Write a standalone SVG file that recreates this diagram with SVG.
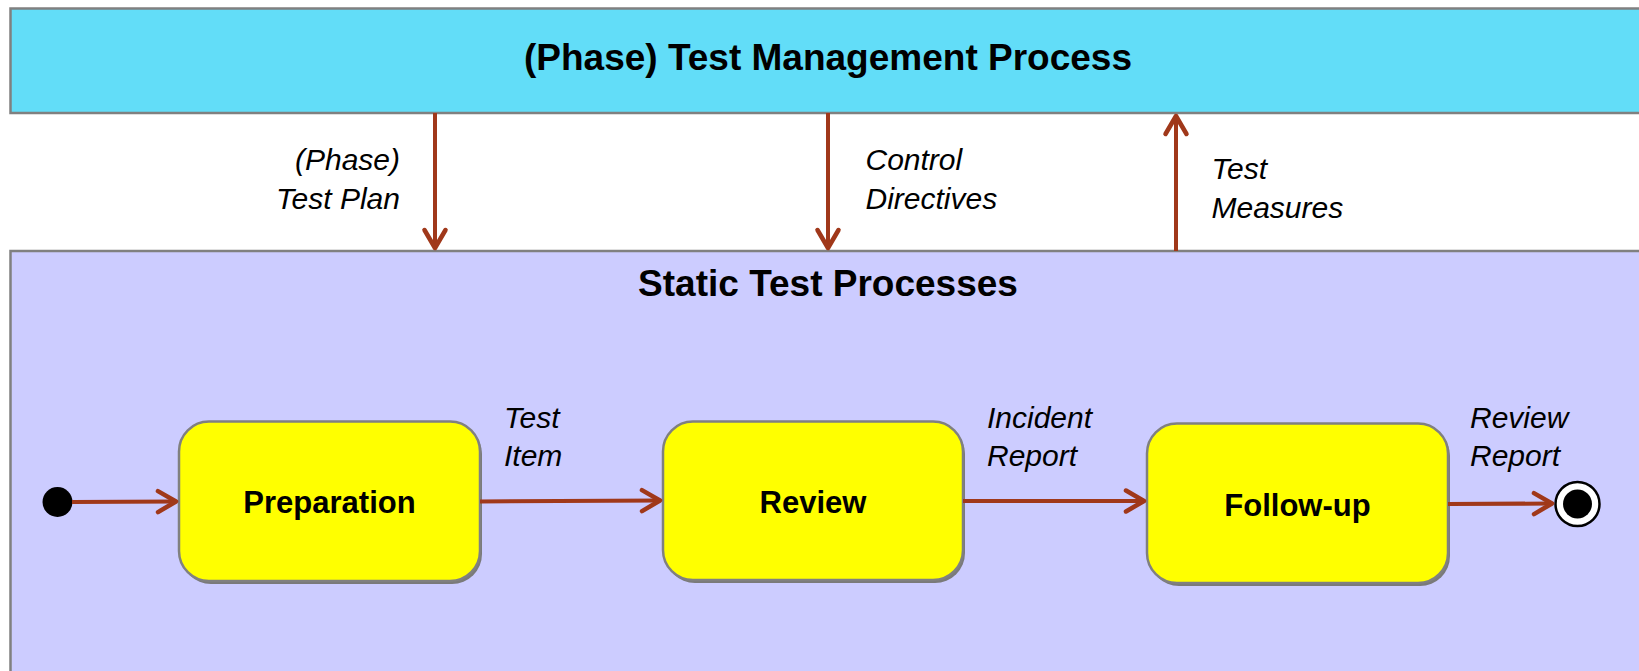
<svg xmlns="http://www.w3.org/2000/svg" width="1639" height="671" viewBox="0 0 1639 671">
  <style>
    .title { font-family: "Liberation Sans", Arial, sans-serif; font-weight: bold; font-size: 37px; fill: #000; text-anchor: middle; }
    .state { font-family: "Liberation Sans", Arial, sans-serif; font-weight: bold; font-size: 31px; fill: #000; text-anchor: middle; }
    .label { font-family: "Liberation Sans", Arial, sans-serif; font-style: italic; font-size: 30px; fill: #000; }
    .flow { stroke: #A0381A; stroke-width: 4; fill: none; marker-end: url(#head); }
    .node { fill: #FFFF00; stroke: #808080; stroke-width: 2.5; }
    .shadow { fill: #7A7A7A; }
  </style>
  <defs>
    <marker id="head" markerUnits="userSpaceOnUse" viewBox="-24 -14 28 28" refX="0" refY="0" markerWidth="28" markerHeight="28" orient="auto">
      <path d="M -18 -10.5 L 0 0 L -18 10.5" fill="none" stroke="#A0381A" stroke-width="4.5" stroke-linecap="round" stroke-linejoin="round"/>
    </marker>
  </defs>

  <rect width="1639" height="671" fill="#FFFFFF"/>

  <!-- management layer -->
  <g id="management">
    <rect x="10.5" y="8.5" width="1640" height="104.5" fill="#62DDF8" stroke="#808080" stroke-width="2.5"/>
    <text class="title" x="828" y="70">(Phase) Test Management Process</text>
  </g>

  <!-- static test layer -->
  <g id="static-tests">
    <rect x="10.5" y="251" width="1640" height="430" fill="#CCCCFF" stroke="#808080" stroke-width="2.5"/>
    <text class="title" x="828" y="296">Static Test Processes</text>
  </g>

  <g id="start">
    <circle cx="57.5" cy="502" r="15" fill="#000"/>
  </g>

  <g id="preparation">
    <rect class="shadow" x="181" y="424" width="301" height="160" rx="30" ry="30"/>
    <rect class="node" x="179" y="421.5" width="301" height="159.5" rx="30" ry="30"/>
    <text class="state" x="329.5" y="513">Preparation</text>
  </g>

  <g id="review">
    <rect class="shadow" x="665" y="424" width="300" height="159" rx="30" ry="30"/>
    <rect class="node" x="663" y="421.5" width="300" height="158.5" rx="30" ry="30"/>
    <text class="state" x="813" y="513">Review</text>
  </g>

  <g id="follow-up">
    <rect class="shadow" x="1149" y="426" width="301" height="160" rx="30" ry="30"/>
    <rect class="node" x="1147" y="423.5" width="301" height="159.5" rx="30" ry="30"/>
    <text class="state" x="1297.5" y="516">Follow-up</text>
  </g>

  <g id="end">
    <circle cx="1577.5" cy="504" r="22" fill="#FFFFFF" stroke="#000" stroke-width="2.5"/>
    <circle cx="1577.5" cy="504" r="14.5" fill="#000"/>
  </g>

  <!-- connectors -->
  <g id="connectors">
    <line class="flow" x1="435" y1="113" x2="435" y2="248"/>
    <line class="flow" x1="828" y1="113" x2="828" y2="248"/>
    <line class="flow" x1="1176" y1="251" x2="1176" y2="116"/>
    <line class="flow" x1="72" y1="502" x2="176" y2="501.5"/>
    <line class="flow" x1="480" y1="501.5" x2="660" y2="500.5"/>
    <line class="flow" x1="963" y1="501" x2="1144" y2="501"/>
    <line class="flow" x1="1448" y1="504" x2="1552" y2="503.5"/>
  </g>

  <!-- flow labels -->
  <g id="labels">
    <text class="label" x="400" y="170" text-anchor="end">(Phase)</text>
    <text class="label" x="400" y="209" text-anchor="end">Test Plan</text>
    <text class="label" x="865.5" y="170">Control</text>
    <text class="label" x="865.5" y="208.5">Directives</text>
    <text class="label" x="1211.5" y="179">Test</text>
    <text class="label" x="1211.5" y="217.5">Measures</text>
    <text class="label" x="504" y="427.5">Test</text>
    <text class="label" x="504" y="466">Item</text>
    <text class="label" x="987" y="427.5">Incident</text>
    <text class="label" x="987" y="466">Report</text>
    <text class="label" x="1470" y="427.5">Review</text>
    <text class="label" x="1470" y="466">Report</text>
  </g>
</svg>
